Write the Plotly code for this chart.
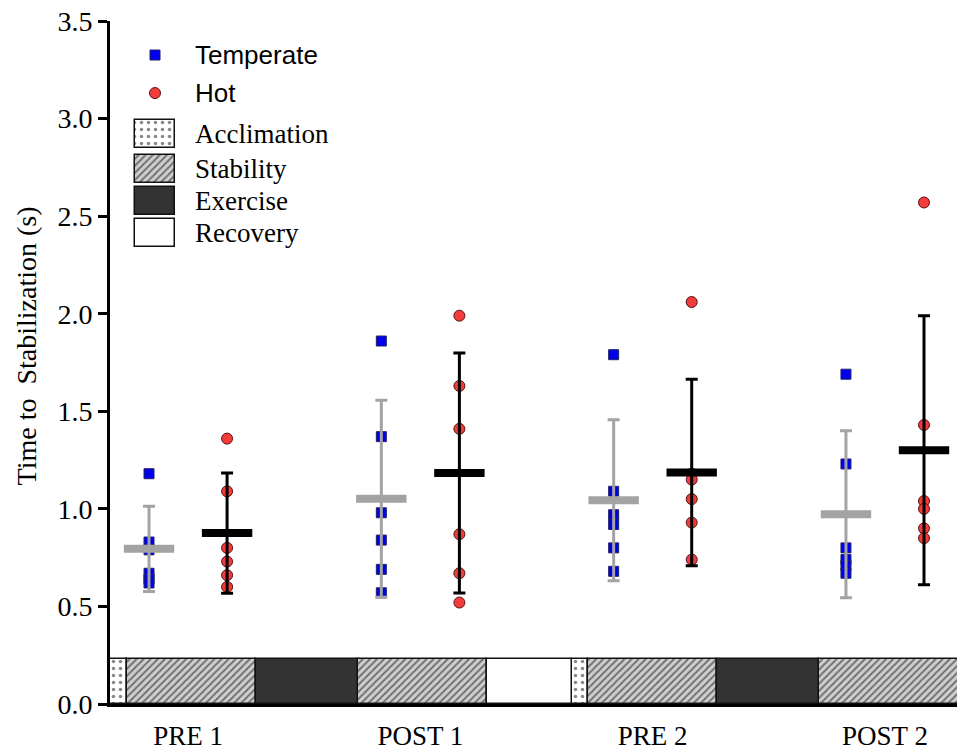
import plotly.graph_objects as go

# ---------------- data ----------------
sessions = ["PRE 1", "POST 1", "PRE 2", "POST 2"]

temperate_values = [
    [1.18, 0.83, 0.79, 0.67, 0.64, 0.62],
    [1.86, 1.37, 0.98, 0.84, 0.69, 0.57],
    [1.79, 1.09, 0.97, 0.92, 0.80, 0.68],
    [1.69, 1.23, 0.80, 0.74, 0.71, 0.67],
]
hot_values = [
    [1.36, 1.09, 0.80, 0.73, 0.66, 0.60],
    [1.99, 1.63, 1.41, 0.87, 0.67, 0.52],
    [2.06, 1.18, 1.15, 1.05, 0.93, 0.74],
    [2.57, 1.43, 1.04, 1.00, 0.90, 0.85],
]
temperate_mean = [0.795, 1.052, 1.044, 0.972]
temperate_sd = [0.218, 0.505, 0.413, 0.428]
hot_mean = [0.876, 1.184, 1.186, 1.300]
hot_sd = [0.308, 0.615, 0.478, 0.689]

# protocol timeline (in session-axis units)
phase_names = ["Acclimation", "Stability", "Exercise", "Stability", "Recovery",
               "Acclimation", "Stability", "Exercise", "Stability"]
phase_start = [-0.336, -0.263, 0.293, 0.732, 1.287, 1.653, 1.722, 2.277, 2.716]
phase_end = [-0.263, 0.293, 0.732, 1.287, 1.653, 1.722, 2.277, 2.716, 3.40]
phase_types = ["Acclimation", "Stability", "Exercise", "Recovery"]
band_height = 0.23

y_title = "Time to  Stabilization (s)"

# ---------------- styles ----------------
SERIF = "Liberation Serif, Times New Roman, serif"
SANS = "Liberation Sans, Arial, sans-serif"
GRAY = "#a3a3a3"
BLUE = "#0000ee"
RED = "#f23b3b"
OFFSET = 0.168

phase_style = {
    "Acclimation": dict(color="white", pattern=dict(shape=".", fillmode="overlay",
                                                    fgcolor="#111111", bgcolor="white", size=7, solidity=0.2)),
    "Stability": dict(color="#cfcfcf", pattern=dict(shape="/", fillmode="overlay",
                                                    fgcolor="#111111", bgcolor="#cfcfcf", size=5, solidity=0.4)),
    "Exercise": dict(color="#333333"),
    "Recovery": dict(color="white"),
}

fig = go.Figure()

# protocol band
for ptype in phase_types:
    xs, ws = [], []
    for n, s, e in zip(phase_names, phase_start, phase_end):
        if n == ptype:
            xs.append((s + e) / 2)
            ws.append(e - s)
    st = phase_style[ptype]
    fig.add_trace(go.Bar(
        x=xs, y=[band_height] * len(xs), base=0, width=ws,
        marker=dict(color=st["color"], pattern=st.get("pattern"),
                    line=dict(color="#111111", width=1.5)),
        showlegend=False, hoverinfo="skip"))

cat_x = list(range(len(sessions)))
temp_x = [c - OFFSET for c in cat_x]
hot_x = [c + OFFSET for c in cat_x]

# individual points: temperate
fig.add_trace(go.Scatter(
    x=[tx for tx, vals in zip(temp_x, temperate_values) for _ in vals],
    y=[v for vals in temperate_values for v in vals],
    mode="markers",
    marker=dict(symbol="square", size=10, color=BLUE, line=dict(color="#222266", width=1)),
    showlegend=False))
# temperate mean +/- SD
fig.add_trace(go.Scatter(
    x=temp_x, y=temperate_mean, mode="markers",
    marker=dict(symbol="line-ew", size=36, line=dict(color=GRAY, width=8)),
    error_y=dict(type="data", array=temperate_sd, color=GRAY, thickness=3, width=6),
    showlegend=False))

# individual points: hot
fig.add_trace(go.Scatter(
    x=[hx for hx, vals in zip(hot_x, hot_values) for _ in vals],
    y=[v for vals in hot_values for v in vals],
    mode="markers",
    marker=dict(symbol="circle", size=11, color=RED, line=dict(color="#5a1010", width=1)),
    showlegend=False))
# hot mean +/- SD
fig.add_trace(go.Scatter(
    x=hot_x, y=hot_mean, mode="markers",
    marker=dict(symbol="line-ew", size=36, line=dict(color="black", width=8)),
    error_y=dict(type="data", array=hot_sd, color="black", thickness=3, width=6),
    showlegend=False))

# ---------------- custom legend (pixel-like overlay axes) ----------------
leg_sym_x = 155
fig.add_trace(go.Scatter(x=[leg_sym_x], y=[55], xaxis="x2", yaxis="y2", mode="markers",
                         marker=dict(symbol="square", size=10, color=BLUE, line=dict(color="#222266", width=1)),
                         showlegend=False, hoverinfo="skip"))
fig.add_trace(go.Scatter(x=[leg_sym_x], y=[93], xaxis="x2", yaxis="y2", mode="markers",
                         marker=dict(symbol="circle", size=11, color=RED, line=dict(color="#5a1010", width=1)),
                         showlegend=False, hoverinfo="skip"))
patch_y = [134, 168.5, 201, 233]
for ptype, py in zip(phase_types, patch_y):
    st = phase_style[ptype]
    fig.add_trace(go.Bar(
        x=[40], y=[py], base=[135], width=[28], orientation="h", xaxis="x2", yaxis="y2",
        marker=dict(color=st["color"], pattern=st.get("pattern"),
                    line=dict(color="#111111", width=1.5)),
        showlegend=False, hoverinfo="skip"))

annotations = [
    dict(x=193, y=55, xref="x2", yref="y2", text="Temperate", showarrow=False, xanchor="left",
         yanchor="middle", font=dict(family=SANS, size=26, color="black")),
    dict(x=193, y=93, xref="x2", yref="y2", text="Hot", showarrow=False, xanchor="left",
         yanchor="middle", font=dict(family=SANS, size=26, color="black")),
    # y-axis title (paper coordinates, left of the tick labels)
    dict(x=-0.0992, y=0.525, xref="paper", yref="paper", text=y_title, showarrow=False,
         textangle=-90, xanchor="center", yanchor="middle",
         font=dict(family=SERIF, size=28, color="black")),
]
for ptype, py in zip(phase_types, patch_y):
    annotations.append(dict(x=193, y=py, xref="x2", yref="y2", text=ptype, showarrow=False,
                            xanchor="left", yanchor="middle",
                            font=dict(family=SERIF, size=27, color="black")))

fig.update_layout(
    width=957, height=752,
    margin=dict(l=110, r=0, t=21, b=48, pad=0),
    paper_bgcolor="white", plot_bgcolor="white",
    barmode="overlay", bargap=0,
    annotations=annotations,
    xaxis=dict(range=[-0.336, 3.31], tickvals=cat_x, ticktext=sessions, ticks="",
               showline=True, linewidth=3, linecolor="black", showgrid=False, zeroline=False,
               tickfont=dict(family=SERIF, size=27, color="black"), ticklabelstandoff=6),
    yaxis=dict(range=[0, 3.5], dtick=0.5, tickformat=".1f", ticks="outside", ticklen=9,
               tickwidth=3, tickcolor="black", showline=True, linewidth=3, linecolor="black",
               showgrid=False, zeroline=False,
               tickfont=dict(family=SERIF, size=28, color="black")),
    xaxis2=dict(overlaying="x", anchor="y2", range=[110, 957], visible=False, fixedrange=True),
    yaxis2=dict(overlaying="y", anchor="x2", range=[703.5, 21], visible=False, fixedrange=True),
    showlegend=False,
)

fig.write_html("out.html")
